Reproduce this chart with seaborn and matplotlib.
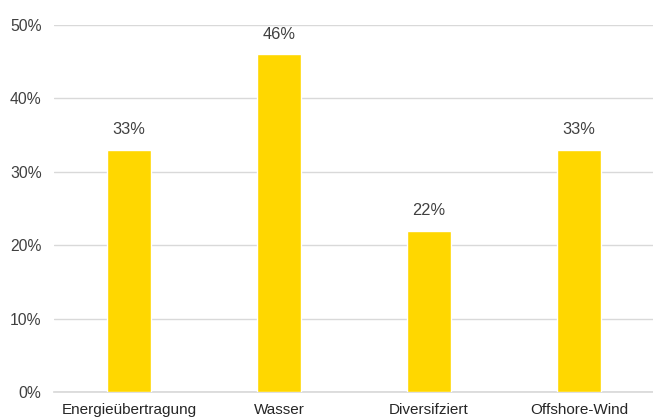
import matplotlib
matplotlib.use('Agg')
import matplotlib.pyplot as plt
import seaborn as sns
import pandas as pd

categories = ['Energieübertragung', 'Wasser', 'Diversifziert', 'Offshore-Wind']
shares = [33, 46, 22, 33]
yticks = [0, 10, 20, 30, 40, 50]

sns.set_theme(style='white')
plt.rcParams['font.family'] = ['Liberation Sans', 'DejaVu Sans']

df = pd.DataFrame({'cat': categories, 'share': shares})

fig = plt.figure(figsize=(6.53, 4.18), dpi=100)
ax = fig.add_axes([54 / 653, 26 / 418, 600 / 653, 367 / 418])
sns.barplot(data=df, x='cat', y='share', color='#FFD700', saturation=1,
            width=0.29, ax=ax, zorder=3)

ax.set_ylim(0, 50)
ax.set_xlim(-0.5, len(categories) - 0.5)
ax.set_yticks(yticks)
ax.set_yticklabels([f'{v}%' for v in yticks], color='#404040', fontsize=11.3)
ax.tick_params(axis='x', labelsize=11, labelcolor='#262626', length=0, pad=8)
ax.tick_params(axis='y', length=0, pad=9)
ax.set_xlabel('')
ax.set_ylabel('')
ax.yaxis.grid(True, color='#d9d9d9', linewidth=1, zorder=0)
for s in ['top', 'right', 'left']:
    ax.spines[s].set_visible(False)
ax.spines['bottom'].set_color('#d9d9d9')

for i, v in enumerate(shares):
    ax.text(i, v + 1.7, f'{v}%', ha='center', va='bottom', fontsize=11.8, color='#404040')

fig.savefig('out.png', dpi=100)
